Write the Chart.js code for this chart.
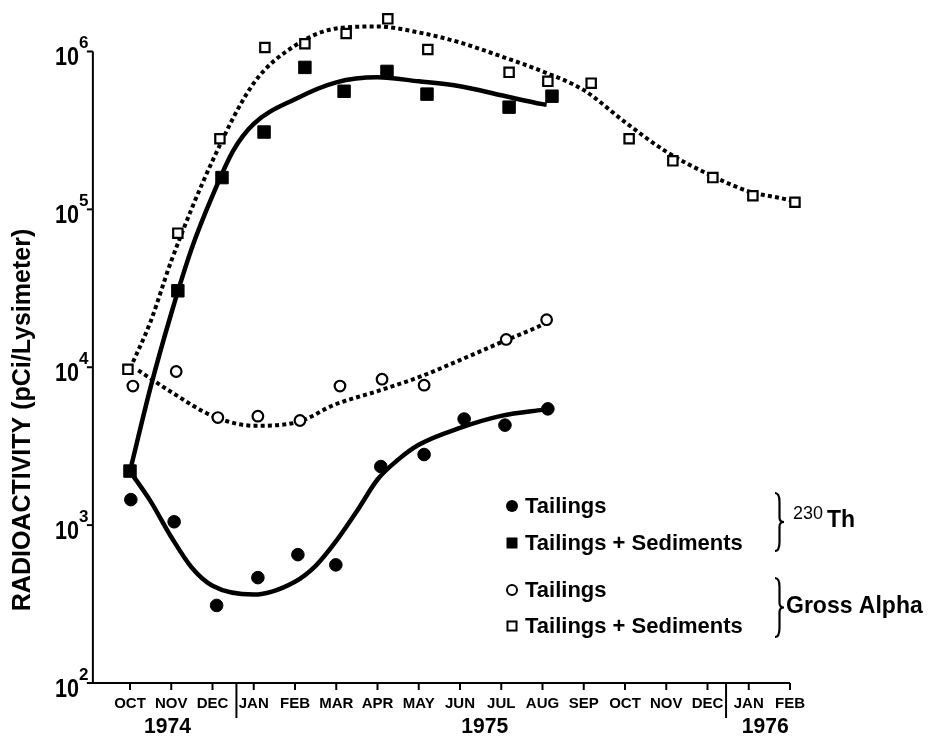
<!DOCTYPE html>
<html>
<head>
<meta charset="utf-8">
<script src="https://cdn.jsdelivr.net/npm/chart.js@4.4.1/dist/chart.umd.min.js"></script>
<style>
    html, body { margin: 0; padding: 0; background: #fff; }
    #wrap { width: 931px; height: 738px; }
</style>
</head>
<body>
<div id="wrap"><canvas id="radioChart" width="931" height="738"></canvas></div>
<script>
// months counted from OCT 1974 = 0
const monthLabels = ['OCT', 'NOV', 'DEC', 'JAN', 'FEB', 'MAR', 'APR', 'MAY', 'JUN', 'JUL', 'AUG', 'SEP', 'OCT', 'NOV', 'DEC', 'JAN', 'FEB'];
const yearLabels = ['1974', '1975', '1976'];
const decadeTicks = [1e2, 1e3, 1e4, 1e5, 1e6];

// 230Th, tailings (filled circles)
const thTailMonths = [0.02, 1.07, 2.1, 3.1, 4.07, 4.99, 6.08, 7.13, 8.1, 9.09, 10.13];
const thTailValues = [1450, 1050, 310, 465, 650, 560, 2350, 2800, 4700, 4300, 5450];
// 230Th, tailings + sediments (filled squares)
const thSedMonths = [0, 1.16, 2.23, 3.25, 4.24, 5.19, 6.23, 7.2, 9.19, 10.23];
const thSedValues = [2200, 30500, 159000, 309000, 793000, 560000, 748000, 537000, 444000, 521000];
// gross alpha, tailings (open circles)
const alphaTailMonths = [0.07, 1.12, 2.13, 3.1, 4.12, 5.09, 6.11, 7.13, 9.12, 10.1];
const alphaTailValues = [7600, 9400, 4800, 4900, 4600, 7600, 8400, 7700, 15000, 20000];
// gross alpha, tailings + sediments (open squares)
const alphaSedMonths = [-0.05, 1.16, 2.18, 3.27, 4.24, 5.24, 6.25, 7.22, 9.19, 10.13, 11.18, 12.1, 13.16, 14.13, 15.1, 16.12];
const alphaSedValues = [9700, 70700, 280000, 1060000, 1120000, 1300000, 1610000, 1030000, 738000, 647000, 630000, 280000, 203000, 159000, 122000, 111000];

// fitted curves
const thTailCurveMonths = [0, 0.5, 1, 1.5, 2, 3, 4, 4.5, 5, 5.5, 6, 6.5, 7, 8, 9, 10, 10.2];
const thTailCurveValues = [2190, 1415, 841, 537, 413, 363, 438, 552, 794, 1225, 1945, 2600, 3230, 4130, 4920, 5370, 5450];
const thSedCurveMonths = [0, 0.5, 1, 1.5, 2, 2.5, 3, 4, 5, 6, 7, 8, 9, 10, 10.1];
const thSedCurveValues = [2200, 7480, 21900, 56900, 122000, 235000, 348000, 499000, 638000, 686000, 647000, 602000, 528000, 464000, 460000];
const alphaTailCurveMonths = [0.2, 1, 2, 3, 4, 5, 6, 7, 8, 9, 10, 10.2];
const alphaTailCurveValues = [9560, 6970, 4920, 4260, 4450, 5850, 7060, 8650, 11100, 14400, 18600, 19800];
const alphaSedCurveMonths = [0, 0.5, 1, 2, 3, 4, 5, 6, 7, 8, 9, 10, 11, 12, 13, 14, 15, 16, 16.12];
const alphaSedCurveValues = [9800, 19500, 47100, 203000, 630000, 1090000, 1400000, 1440000, 1320000, 1140000, 931000, 748000, 569000, 357000, 232000, 168000, 130000, 114000, 111000];

const FONT = '"Liberation Sans", Arial, Helvetica, sans-serif';

function toPoints(months, values) {
    return months.map((m, i) => ({ x: m, y: values[i] }));
}

function markerSet(months, values, style, filled, radius) {
    return {
        data: toPoints(months, values),
        showLine: false,
        pointStyle: style,
        pointRadius: radius,
        pointHoverRadius: radius,
        pointBackgroundColor: filled ? '#000' : '#fff',
        pointBorderColor: '#000',
        pointBorderWidth: filled ? 1 : 2.2,
        clip: false,
        order: 0
    };
}

function curveSet(months, values, dotted) {
    return {
        data: toPoints(months, values),
        borderColor: '#000',
        borderWidth: dotted ? 4 : 4.5,
        borderDash: dotted ? [4, 3.2] : [],
        pointRadius: 0,
        cubicInterpolationMode: 'monotone',
        fill: false,
        clip: false,
        order: 1
    };
}

function drawBrace(ctx, x, y1, y2, w) {
    const ym = (y1 + y2) / 2;
    const xm = x + w / 2;
    ctx.beginPath();
    ctx.moveTo(x, y1);
    ctx.quadraticCurveTo(xm, y1, xm, y1 + w);
    ctx.lineTo(xm, ym - w / 2);
    ctx.quadraticCurveTo(xm, ym, x + w, ym);
    ctx.quadraticCurveTo(xm, ym, xm, ym + w / 2);
    ctx.lineTo(xm, y2 - w);
    ctx.quadraticCurveTo(xm, y2, x, y2);
    ctx.stroke();
}

const paperAxes = {
    id: 'paperAxes',
    afterDraw(chart) {
        const { ctx } = chart;
        const xs = chart.scales.x;
        const ys = chart.scales.y;
        const left = xs.getPixelForValue(xs.min);
        const bottom = ys.getPixelForValue(1e2);
        const top = ys.getPixelForValue(1e6);
        const lastMonth = xs.getPixelForValue(monthLabels.length - 1);

        ctx.save();
        ctx.strokeStyle = '#000';
        ctx.fillStyle = '#000';
        ctx.lineWidth = 2;

        // axes
        ctx.beginPath();
        ctx.moveTo(left, top);
        ctx.lineTo(left, bottom);
        ctx.lineTo(lastMonth, bottom);
        ctx.stroke();

        // y ticks and labels
        decadeTicks.forEach(v => {
            const py = ys.getPixelForValue(v);
            ctx.beginPath();
            ctx.moveTo(left - 6, py);
            ctx.lineTo(left, py);
            ctx.stroke();
            ctx.textAlign = 'right';
            ctx.textBaseline = 'alphabetic';
            ctx.font = 'bold 26px ' + FONT;
            ctx.fillText('10', 79, py + 14, 24);
            ctx.textAlign = 'left';
            ctx.font = 'bold 17px ' + FONT;
            ctx.fillText(String(Math.round(Math.log10(v))), 79, py - 3);
        });

        // x ticks and month labels
        ctx.font = 'bold 15px ' + FONT;
        ctx.textAlign = 'center';
        monthLabels.forEach((label, i) => {
            const px = xs.getPixelForValue(i);
            ctx.beginPath();
            ctx.moveTo(px, bottom);
            ctx.lineTo(px, bottom + 7);
            ctx.stroke();
            ctx.fillText(label, px, bottom + 25, 37);
        });

        // year separators
        [2.58, 14.45].forEach(m => {
            const px = xs.getPixelForValue(m);
            ctx.beginPath();
            ctx.moveTo(px, bottom);
            ctx.lineTo(px, bottom + 35);
            ctx.stroke();
        });

        ctx.font = 'bold 22px ' + FONT;
        [0.91, 8.6, 15.4].forEach((m, i) => {
            ctx.fillText(yearLabels[i], xs.getPixelForValue(m), bottom + 50, 47);
        });

        // y title
        ctx.save();
        ctx.translate(30, 420);
        ctx.rotate(-Math.PI / 2);
        ctx.font = 'bold 25px ' + FONT;
        ctx.textAlign = 'center';
        ctx.fillText('RADIOACTIVITY (pCi/Lysimeter)', 0, 0, 388);
        ctx.restore();

        // legend
        const rows = [
            { y: 513, style: 'circle', filled: true, text: 'Tailings' },
            { y: 550, style: 'rect', filled: true, text: 'Tailings + Sediments' },
            { y: 597, style: 'circle', filled: false, text: 'Tailings' },
            { y: 633, style: 'rect', filled: false, text: 'Tailings + Sediments' }
        ];
        ctx.textAlign = 'left';
        ctx.font = 'bold 22px ' + FONT;
        rows.forEach(r => {
            const my = r.y - 7;
            ctx.lineWidth = 2;
            ctx.beginPath();
            if (r.style === 'circle') {
                ctx.arc(512, my, r.filled ? 6 : 5, 0, Math.PI * 2);
            } else if (r.filled) {
                ctx.rect(506.5, my - 5.5, 11, 11);
            } else {
                ctx.rect(507.5, my - 4.5, 9, 9);
            }
            if (r.filled) {
                ctx.fill();
            } else {
                ctx.stroke();
            }
            ctx.fillText(r.text, 525, r.y, 235);
        });

        ctx.lineWidth = 2.2;
        drawBrace(ctx, 775, 493, 551, 9);
        drawBrace(ctx, 775, 578, 637, 9);

        ctx.font = '18px ' + FONT;
        ctx.fillText('230', 793, 519, 33);
        ctx.font = 'bold 23px ' + FONT;
        ctx.fillText('Th', 827, 527);
        ctx.fillText('Gross Alpha', 786, 613, 140);

        ctx.restore();
    }
};

const chartCanvas = document.getElementById('radioChart');

new Chart(chartCanvas, {
    type: 'line',
    data: {
        datasets: [
            markerSet(thTailMonths, thTailValues, 'circle', true, 6.3),
            markerSet(thSedMonths, thSedValues, 'rect', true, 8.8),
            markerSet(alphaTailMonths, alphaTailValues, 'circle', false, 5.3),
            markerSet(alphaSedMonths, alphaSedValues, 'rect', false, 6.6),
            curveSet(thTailCurveMonths, thTailCurveValues, false),
            curveSet(thSedCurveMonths, thSedCurveValues, false),
            curveSet(alphaTailCurveMonths, alphaTailCurveValues, true),
            curveSet(alphaSedCurveMonths, alphaSedCurveValues, true)
        ]
    },
    options: {
        responsive: false,
        animation: false,
        devicePixelRatio: 1,
        layout: {
            padding: { left: 92.875, right: 116.25, top: 5, bottom: 55 }
        },
        plugins: {
            legend: { display: false },
            tooltip: { enabled: false }
        },
        scales: {
            x: { type: 'linear', min: -0.9, max: 16.6, display: false },
            y: { type: 'logarithmic', min: 100, max: 1.837e6, display: false }
        }
    },
    plugins: [paperAxes]
});
</script>
</body>
</html>
